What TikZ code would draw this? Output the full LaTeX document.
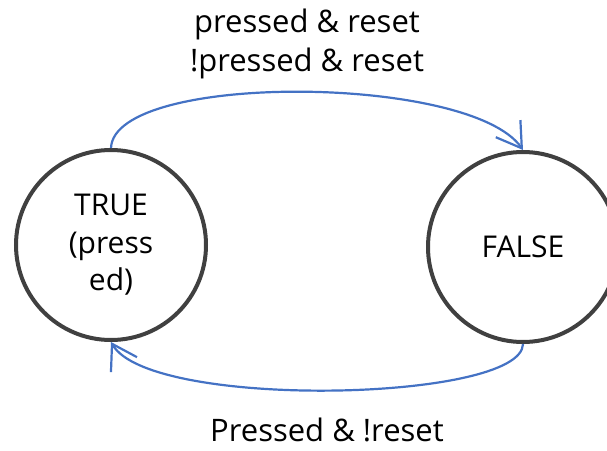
\documentclass[tikz,border=0pt]{standalone}
\usepackage{fontspec}
\setmainfont{Open Sans}
\usepackage{tikz}
\usetikzlibrary{arrows.meta, positioning}
\definecolor{ringgray}{HTML}{404040}
\definecolor{edgeblue}{HTML}{4472C4}

\begin{document}
\begin{tikzpicture}[
    x=1pt, y=-1pt,
    state/.style={circle, draw=ringgray, line width=4pt, minimum size=190pt, inner sep=0pt, align=center, font=\fontsize{30}{37.5}\selectfont},
    trans/.style={-{Straight Barb[length=24pt, width=30pt]}, line width=2.2pt, color=edgeblue},
    cond/.style={align=center, font=\fontsize{31}{39}\selectfont}
]
\useasboundingbox (0,0) rectangle (607,450);

% The two states
\node[state] (st_true) at (111,245) {TRUE\\(press\\ed)};
\node[state] (st_false) at (523,247) {FALSE};

% Transitions between them
\draw[trans] (st_true.north) .. controls (114,72) and (470,74) .. (st_false.north);
\draw[trans] (st_false.south) .. controls (522,402) and (150,410) .. (st_true.south);

% Conditions
\node[cond] (lbl_top) at (307,44) {pressed \& reset\\!pressed \& reset};
\node[cond] (lbl_bot) at (327,430) {Pressed \& !reset};

\end{tikzpicture}
\end{document}
